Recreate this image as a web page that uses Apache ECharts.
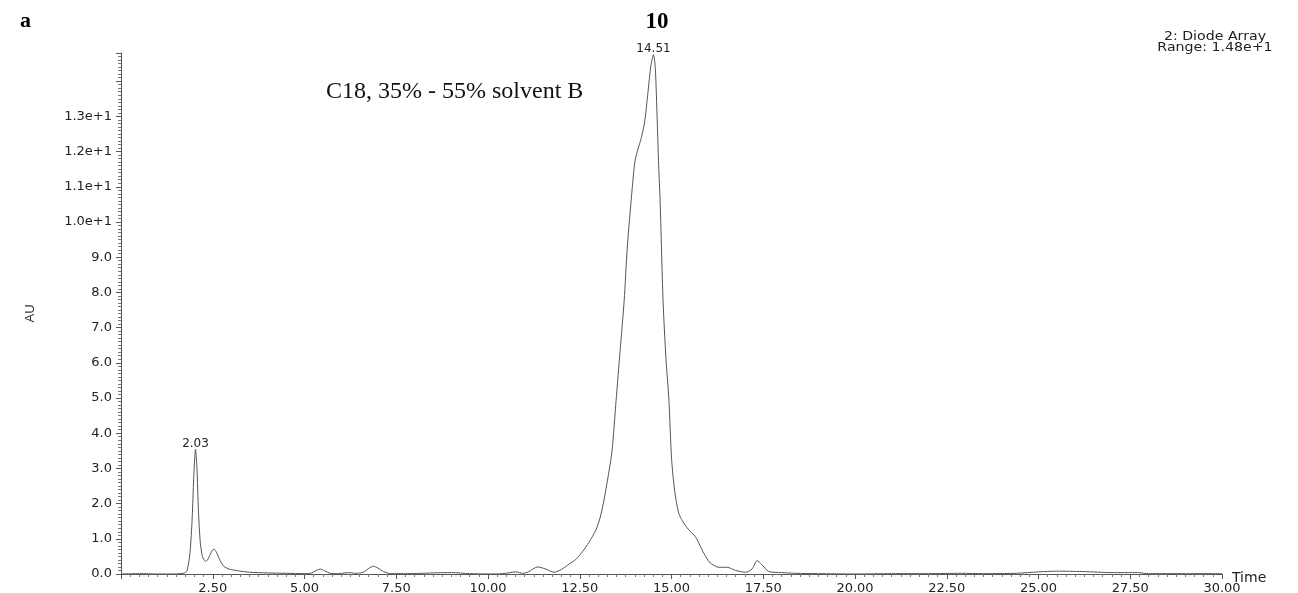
<!DOCTYPE html>
<html>
<head>
<meta charset="utf-8">
<title>Chromatogram</title>
<script src="https://cdn.jsdelivr.net/npm/echarts@6/dist/echarts.min.js"></script>
<style>
  html, body { margin: 0; padding: 0; background: #fff; }
  #chart { width: 1298px; height: 593px; }
</style>
</head>
<body>
<div id="chart"></div>
<script>
// Retention time (min) and detector response (AU) of the diode-array trace
const times = [
  0.00, 0.50, 1.00, 1.40, 1.70, 1.80, 1.88, 1.94, 1.98, 2.03,
  2.07, 2.11, 2.16, 2.22, 2.30, 2.36, 2.45, 2.53, 2.60, 2.70,
  2.80, 2.95, 3.20, 3.50, 4.00, 4.50, 5.00, 5.20, 5.32, 5.43,
  5.55, 5.70, 5.90, 6.20, 6.40, 6.60, 6.75, 6.88, 7.00, 7.15,
  7.35, 7.80, 8.50, 9.00, 9.50, 10.00, 10.40, 10.76, 10.95, 11.10,
  11.35, 11.55, 11.80, 12.00, 12.21, 12.40, 12.57, 12.75, 12.94, 13.06,
  13.16, 13.27, 13.38, 13.49, 13.60, 13.71, 13.79, 13.90, 14.00, 14.08,
  14.18, 14.27, 14.36, 14.44, 14.51, 14.56, 14.61, 14.65, 14.69, 14.77,
  14.85, 14.93, 15.00, 15.07, 15.14, 15.20, 15.30, 15.45, 15.65, 15.78,
  15.88, 16.05, 16.29, 16.52, 16.75, 17.02, 17.20, 17.33, 17.45, 17.65,
  18.00, 18.37, 19.00, 20.00, 21.00, 22.00, 22.90, 23.50, 24.40, 25.00,
  25.50, 26.20, 27.00, 27.70, 28.00, 29.00, 30.00
];
const values = [
  0.00, 0.01, 0.00, 0.00, 0.02, 0.10, 0.60, 1.60, 2.70, 3.54,
  3.00, 1.80, 0.90, 0.50, 0.36, 0.40, 0.60, 0.71, 0.62, 0.38,
  0.22, 0.14, 0.09, 0.05, 0.03, 0.02, 0.01, 0.03, 0.10, 0.14,
  0.09, 0.02, 0.01, 0.04, 0.02, 0.05, 0.16, 0.22, 0.17, 0.07,
  0.01, 0.01, 0.03, 0.04, 0.01, 0.00, 0.01, 0.06, 0.02, 0.06,
  0.20, 0.15, 0.05, 0.13, 0.28, 0.42, 0.63, 0.90, 1.25, 1.62,
  2.10, 2.75, 3.50, 4.93, 6.35, 7.76, 9.20, 10.60, 11.70, 12.05,
  12.40, 12.85, 13.70, 14.45, 14.75, 14.35, 12.90, 11.60, 10.60, 7.76,
  6.10, 4.93, 3.30, 2.50, 2.00, 1.72, 1.50, 1.28, 1.06, 0.80,
  0.59, 0.32, 0.19, 0.19, 0.10, 0.05, 0.15, 0.38, 0.28, 0.07,
  0.04, 0.02, 0.01, 0.00, 0.01, 0.01, 0.02, 0.01, 0.02, 0.06,
  0.08, 0.07, 0.04, 0.04, 0.01, 0.01, 0.01
];
// Apex retention times annotated on the trace
const peakTimes = [2.03, 14.51];

// Axis settings
const xTickStep = 2.5;
const yTickStep = 1;
const xMax = 30;
const yMax = 14.8;

const traceData = times.map((t, i) => [t, values[i]]);
const peakMarks = peakTimes.map(t => {
  const i = times.indexOf(t);
  return { coord: [t, values[i]], value: t.toFixed(2) };
});

const axisFont = 'DejaVu Sans, Liberation Sans, sans-serif';
const axisColor = '#555';

const chart = echarts.init(document.getElementById('chart'), null, { renderer: 'canvas' });
chart.setOption({
  backgroundColor: '#fff',
  animation: false,
  grid: { left: 121, right: 76, top: 53, bottom: 19, containLabel: false, outerBoundsMode: 'none' },
  xAxis: {
    type: 'value',
    min: 0,
    max: xMax,
    interval: xTickStep,
    axisLine: { show: true, onZero: false, lineStyle: { color: axisColor, width: 1 } },
    axisTick: { show: true, length: 5, lineStyle: { color: axisColor } },
    minorTick: { show: true, splitNumber: 10, length: 3, lineStyle: { color: '#777' } },
    splitLine: { show: false },
    axisLabel: {
      showMinLabel: false,
      margin: 8,
      fontFamily: axisFont,
      fontSize: 13,
      color: '#222',
      formatter: v => v.toFixed(2)
    }
  },
  yAxis: {
    type: 'value',
    min: 0,
    max: yMax,
    interval: yTickStep,
    name: 'AU',
    nameLocation: 'middle',
    nameGap: 84,
    nameRotate: 90,
    nameTextStyle: { fontFamily: 'Liberation Sans Narrow, Liberation Sans, sans-serif', fontSize: 13, color: '#333' },
    axisLine: { show: true, lineStyle: { color: axisColor, width: 1 } },
    axisTick: { show: true, length: 5, lineStyle: { color: axisColor } },
    minorTick: { show: true, splitNumber: 10, length: 3, lineStyle: { color: '#777' } },
    splitLine: { show: false },
    axisLabel: {
      showMaxLabel: false,
      margin: 9,
      fontFamily: axisFont,
      fontSize: 13,
      color: '#222',
      formatter: v => {
        if (v > 13.5) return '';
        if (v >= 10) return (v / 10).toFixed(1) + 'e+1';
        return v.toFixed(1);
      }
    }
  },
  series: [{
    type: 'line',
    data: traceData,
    showSymbol: false,
    smooth: 0.25,
    lineStyle: { color: '#555', width: 1 },
    markPoint: {
      symbol: 'circle',
      symbolSize: 0,
      label: {
        show: true,
        position: 'top',
        distance: 0,
        fontFamily: axisFont,
        fontSize: 12,
        color: '#222',
        formatter: p => p.value
      },
      data: peakMarks
    }
  }],
  graphic: [
    { type: 'text', left: 20, top: 10, style: { text: 'a', font: 'bold 22px "Liberation Serif", "Times New Roman", serif', fill: '#000' } },
    { type: 'text', x: 657, y: 22, style: { text: '10', font: 'bold 23px "Liberation Serif", "Times New Roman", serif', fill: '#000', textAlign: 'center', textVerticalAlign: 'middle' } },
    { type: 'text', x: 326, y: 92, style: { text: 'C18, 35% - 55% solvent B', font: '24px "Liberation Serif", "Times New Roman", serif', fill: '#111', textAlign: 'left', textVerticalAlign: 'middle' } },
    { type: 'text', x: 1215, y: 37, scaleX: 1.18, style: { text: '2: Diode Array', font: '12px "DejaVu Sans", sans-serif', fill: '#222', textAlign: 'center', textVerticalAlign: 'middle' } },
    { type: 'text', x: 1215, y: 48, scaleX: 1.18, style: { text: 'Range: 1.48e+1', font: '12px "DejaVu Sans", sans-serif', fill: '#222', textAlign: 'center', textVerticalAlign: 'middle' } },
    { type: 'text', x: 1232, y: 578, style: { text: 'Time', font: '14px "DejaVu Sans", sans-serif', fill: '#222', textAlign: 'left', textVerticalAlign: 'middle' } }
  ]
});
</script>
</body>
</html>
